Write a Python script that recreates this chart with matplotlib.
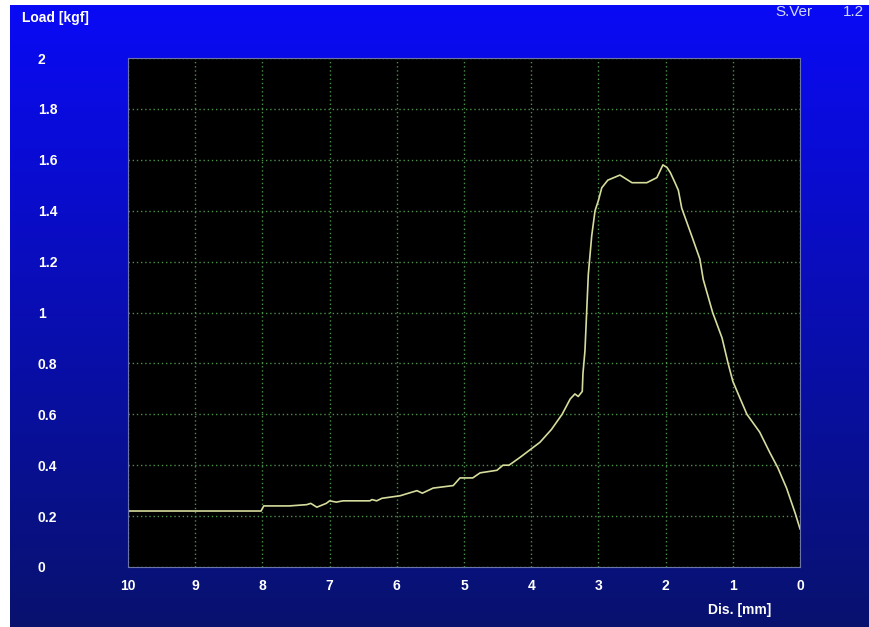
import matplotlib.pyplot as plt
import numpy as np

# Load vs displacement curve
dis = [10.0, 9.0, 8.5, 8.02, 7.98, 7.6, 7.34, 7.28, 7.19, 7.05, 7.0, 6.9, 6.8, 6.4,
       6.37, 6.3, 6.22, 5.95, 5.7, 5.62, 5.46, 5.16, 5.06, 4.87, 4.76, 4.51, 4.42,
       4.33, 4.17, 4.02, 3.87, 3.7, 3.54, 3.42, 3.35, 3.30, 3.24, 3.23, 3.2, 3.15,
       3.1, 3.05, 3.0, 2.95, 2.86, 2.68, 2.5, 2.28, 2.13, 2.04, 1.98, 1.93, 1.86,
       1.81, 1.76, 1.61, 1.49, 1.44, 1.30, 1.16, 1.07, 1.0, 0.92, 0.79, 0.60, 0.45,
       0.33, 0.2, 0.07, 0.0]
load = [0.22, 0.22, 0.22, 0.22, 0.24, 0.24, 0.245, 0.25, 0.235, 0.25, 0.26, 0.255, 0.26, 0.26,
        0.265, 0.26, 0.27, 0.28, 0.30, 0.29, 0.31, 0.32, 0.35, 0.35, 0.37, 0.38, 0.40,
        0.40, 0.43, 0.46, 0.49, 0.54, 0.60, 0.66, 0.68, 0.67, 0.69, 0.76, 0.85, 1.15,
        1.30, 1.40, 1.44, 1.49, 1.52, 1.54, 1.51, 1.51, 1.53, 1.58, 1.57, 1.55, 1.51,
        1.48, 1.41, 1.30, 1.21, 1.13, 1.0, 0.90, 0.80, 0.73, 0.68, 0.60, 0.53, 0.45,
        0.39, 0.31, 0.21, 0.15]

x_ticks = [10, 9, 8, 7, 6, 5, 4, 3, 2, 1, 0]
y_ticks = [0, 0.2, 0.4, 0.6, 0.8, 1, 1.2, 1.4, 1.6, 1.8, 2]
y_labels = ['0', '0.2', '0.4', '0.6', '0.8', '1', '1.2', '1.4', '1.6', '1.8', '2']

plt.rcParams['font.family'] = ['Liberation Sans', 'DejaVu Sans']

fig = plt.figure(figsize=(8.7, 6.27), dpi=100, facecolor='white')

# blue gradient panel behind everything
bg = fig.add_axes([10 / 870, 0, 860 / 870, 622 / 627], zorder=0)
top = np.array([10, 10, 245]) / 255
bottom = np.array([8, 18, 110]) / 255
t = np.linspace(0, 1, 256)[:, None]
grad = top * (1 - t) + bottom * t
bg.imshow(grad[:, None, :].repeat(2, axis=1), aspect='auto', extent=[0, 1, 0, 1])
bg.axis('off')

ax = fig.add_axes([128 / 870, 1 - 567 / 627, 672 / 870, 509 / 627], zorder=1)
ax.set_facecolor('black')
ax.plot(dis, load, color='#d6dc9c', lw=1.2)

ax.set_xlim(10, 0)
ax.set_ylim(0, 2)
ax.set_xticks(x_ticks)
ax.set_yticks(y_ticks)
ax.set_yticklabels(y_labels)
ax.grid(True, color='#4a924a', linestyle=(0, (1, 2)), linewidth=1)
ax.tick_params(length=0, colors='white', labelsize=10)
ax.tick_params(axis='y', pad=65)
ax.tick_params(axis='x', pad=9)
for lbl in ax.get_yticklabels() + ax.get_xticklabels():
    lbl.set_fontweight('bold')
for lbl in ax.get_yticklabels():
    lbl.set_horizontalalignment('left')
for s in ax.spines.values():
    s.set_color('#6a74a8')
    s.set_linewidth(0.8)

fig.text(22 / 870, 1 - 18 / 627, 'Load [kgf]', color='white', fontsize=10,
         fontweight='bold', va='center')
fig.text(775 / 870, 1 - 12 / 627, 'S.Ver', color='#d0d8ff', fontsize=11, va='center')
fig.text(843 / 870, 1 - 12 / 627, '1.2', color='#d0d8ff', fontsize=11, va='center')
fig.text(740 / 870, 1 - 610 / 627, 'Dis. [mm]', color='white', fontsize=10,
         fontweight='bold', va='center', ha='center')

fig.savefig('out.png', dpi=100)
